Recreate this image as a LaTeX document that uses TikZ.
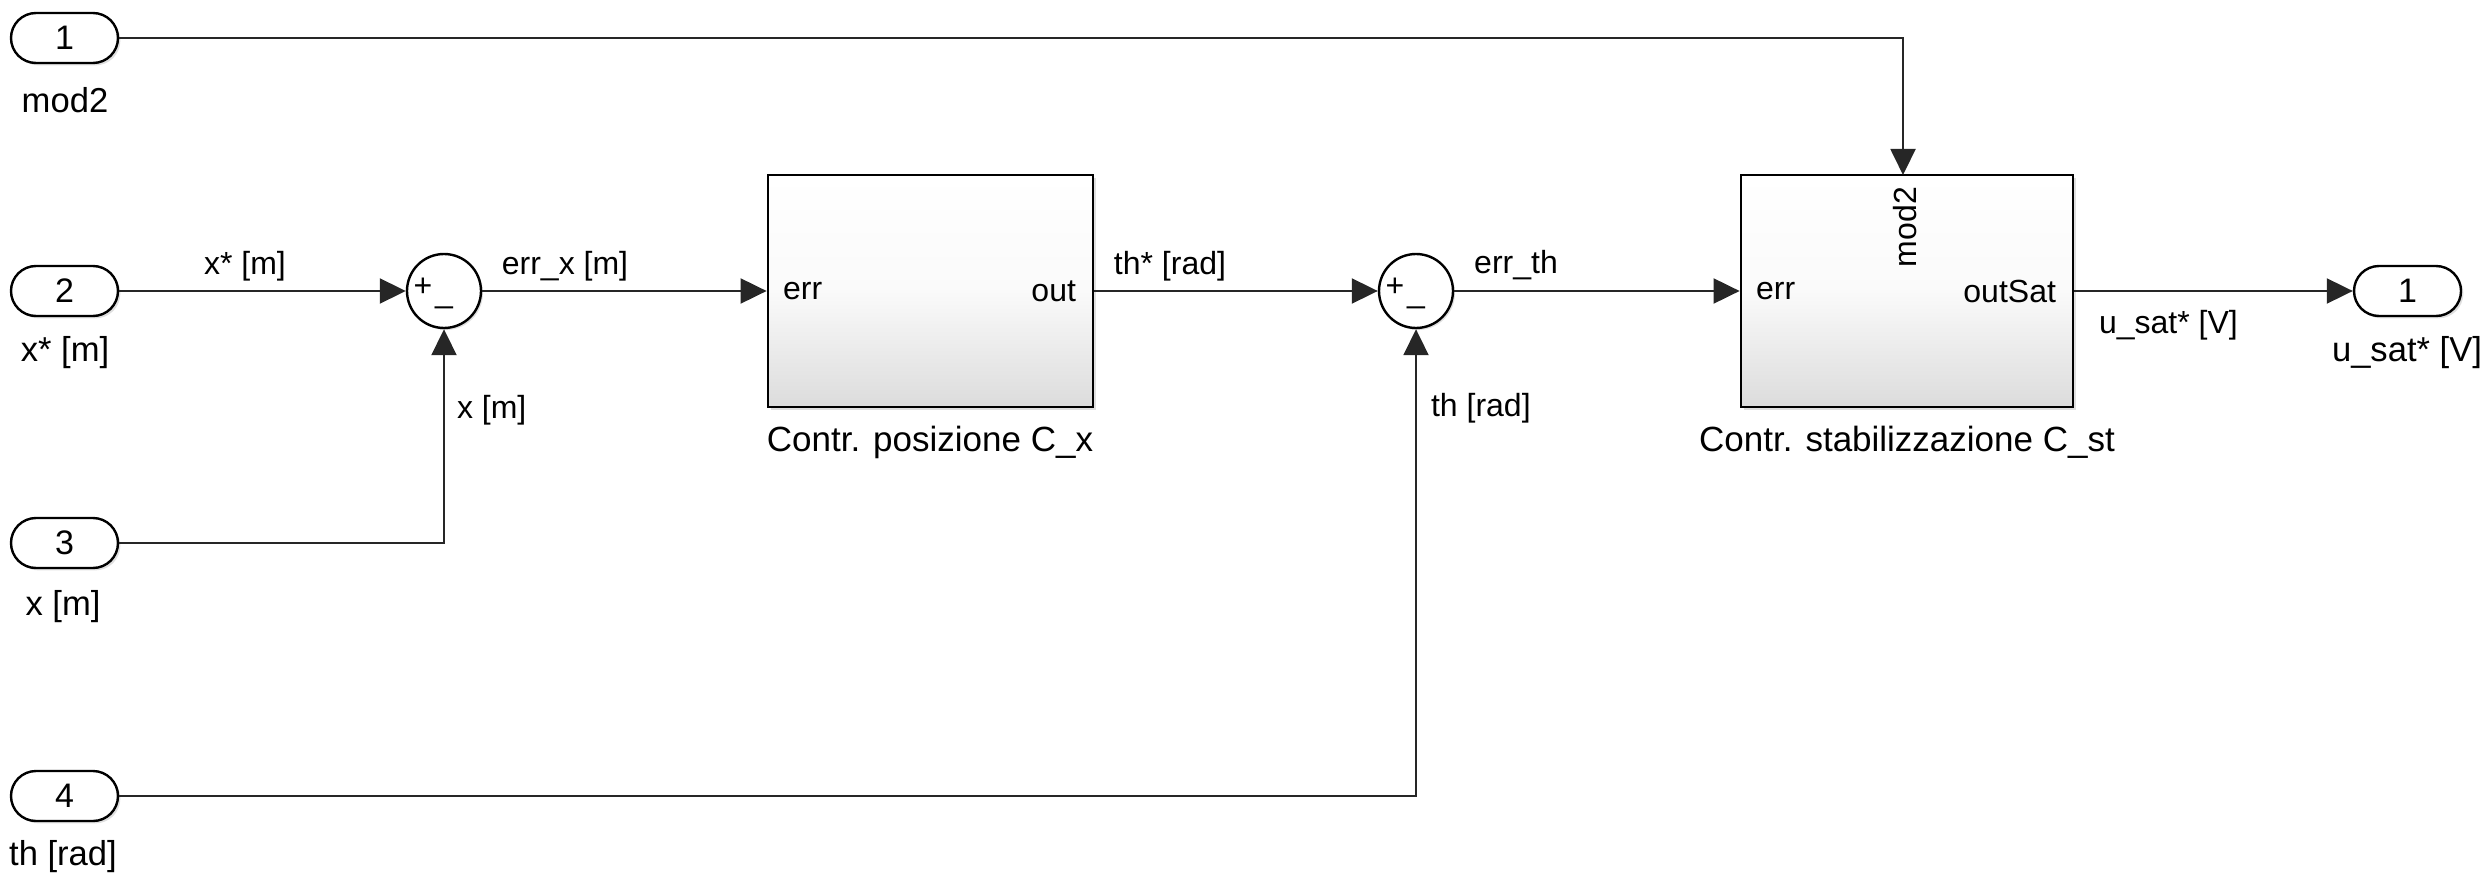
\documentclass[tikz,border=0pt]{standalone}
\usepackage{fontspec}
\setmainfont{Liberation Sans}
\usetikzlibrary{arrows.meta,shadows}
\begin{document}
\begin{tikzpicture}[x=0.5pt,y=-0.5pt,
  sig/.style={line width=1pt,draw=black!85},
  arr/.style={sig,-{Triangle[length=13pt,width=12.5pt]}},
  port/.style={draw,line width=1.2pt,rounded corners=12.5pt,minimum width=53.5pt,minimum height=25pt,fill=white,
     inner sep=0pt,font=\fontsize{17}{20}\selectfont,drop shadow={shadow xshift=1.2pt,shadow yshift=-1.2pt,opacity=0.25}},
  sumblk/.style={circle,draw,line width=1.2pt,minimum size=37pt,inner sep=0pt,fill=white,
     drop shadow={shadow xshift=1pt,shadow yshift=-1pt,opacity=0.25}},
  blk/.style={draw,line width=1.4pt,minimum width=#1,minimum height=116pt,inner sep=0pt,
     top color=white,bottom color={rgb,255:red,220;green,220;blue,220},middle color={rgb,255:red,250;green,250;blue,250},
     drop shadow={shadow xshift=1.5pt,shadow yshift=-1.5pt,opacity=0.25}},
  plab/.style={font=\fontsize{17.3}{20}\selectfont},
  slab/.style={font=\fontsize{16}{19}\selectfont},
  blab/.style={font=\fontsize{17.5}{20}\selectfont},
  sgn/.style={font=\fontsize{16}{19}\selectfont,inner sep=0pt}
]
\useasboundingbox (0,0) rectangle (2488,877);

% ports
\node[port] (in1) at (64.5,38) {1};
\node[plab] (in1l) at (65,100) {mod2};
\node[port] (in2) at (64.5,291) {2};
\node[plab] (in2l) at (65,353) {x* [m]};
\node[port] (in3) at (64.5,543) {3};
\node[plab] (in3l) at (63,607) {x [m]};
\node[port] (in4) at (64.5,796) {4};
\node[plab] (in4l) at (63,857) {th [rad]};
\node[port] (out1) at (2407.5,291) {1};
\node[plab] (out1l) at (2407,353) {u\_sat* [V]};

% sums
\node[sumblk] (sum1) at (444,291) {};
\node[sgn] (sum1p) at (423,287) {+};
\node[sgn] (sum1m) at (444,306) {\_};
\node[sumblk] (sum2) at (1416,291) {};
\node[sgn] (sum2p) at (1395,287) {+};
\node[sgn] (sum2m) at (1416,306) {\_};

% blocks
\node[blk=162.5pt] (cx) at (930.5,291) {};
\node[slab,anchor=west] (cxerr) at (776,291) {err};
\node[slab,anchor=east] (cxout) at (1083,291) {out};
\node[blab] (cxl) at (930,442) {Contr. posizione C\_x};

\node[blk=166pt] (cst) at (1907,291) {};
\node[slab,anchor=west] (csterr) at (1749,291) {err};
\node[slab,anchor=east] (cstout) at (2063,291) {outSat};
\node[slab,rotate=90] (cstmod) at (1905,227) {mod2};
\node[blab] (cstl) at (1907,442) {Contr. stabilizzazione C\_st};

% connectors
\draw[arr] (in2.east) -- (sum1.west);
\draw[arr] (in3.east) -| (sum1.south);
\draw[arr] (sum1.east) -- (cx.west);
\draw[arr] (cx.east) -- (sum2.west);
\draw[arr] (in4.east) -| (sum2.south);
\draw[arr] (sum2.east) -- (cst.west);
\draw[arr] (cst.east) -- (out1.west);
\coordinate (modin) at (1903,175);
\draw[arr] (in1.east) -| (modin);

% signal labels
\node[slab] (l1) at (245,266) {x* [m]};
\node[slab] (l2) at (565,266) {err\_x [m]};
\node[slab] (l3) at (1170,266) {th* [rad]};
\node[slab] (l4) at (1516,265) {err\_th};
\node[slab,anchor=west] (l5) at (2092,325) {u\_sat* [V]};
\node[slab,anchor=west] (l6) at (450,410) {x [m]};
\node[slab,anchor=west] (l7) at (1424,408) {th [rad]};
\end{tikzpicture}
\end{document}
